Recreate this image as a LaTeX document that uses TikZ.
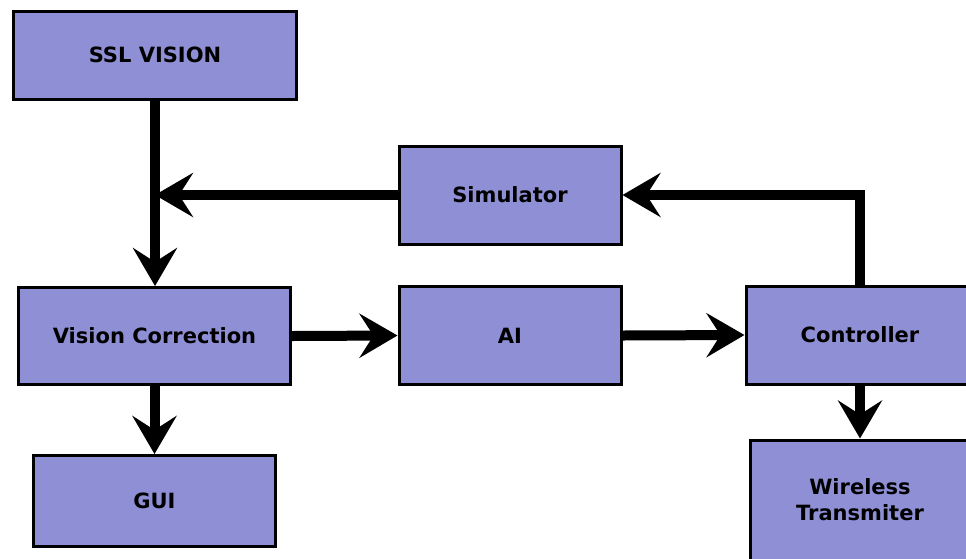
\documentclass[tikz,border=0pt]{standalone}
\usepackage{fontspec}
\setmainfont{DejaVu Sans}
\usetikzlibrary{arrows.meta}

\definecolor{boxblue}{RGB}{143,143,214}

\tikzset{
  block/.style={draw=black, fill=boxblue, line width=3pt, inner sep=0pt,
    align=center, font=\fontsize{21}{26}\selectfont\bfseries},
  flow/.style={line width=10pt, -{Stealth[length=38pt, width=44pt, inset=14pt]}}
}

\begin{document}
\begin{tikzpicture}[x=1pt, y=-1pt]
      % Picture frame
      \useasboundingbox (0,0) rectangle (966,558);
      \clip (0,0) rectangle (966,558);

      % Blocks
      \node[block, minimum width=283pt, minimum height=88pt] (ssl) at (155,55) {SSL VISION};
      \node[block, minimum width=222pt, minimum height=98pt] (sim) at (510,195) {Simulator};
      \node[block, minimum width=272pt, minimum height=97pt] (vc) at (154.5,336) {Vision Correction};
      \node[block, minimum width=222pt, minimum height=98pt] (ai) at (510,335.5) {AI};
      \node[block, minimum width=228pt, minimum height=98pt] (ctrl) at (860,335) {Controller};
      \node[block, minimum width=242pt, minimum height=91pt] (gui) at (154.5,501) {GUI};
      \node[block, minimum width=220pt, minimum height=120pt] (wt) at (860,500) {Wireless\\Transmiter};

      % Data flow
      \draw[flow] (ssl.south) -- (ssl.south |- vc.north);
      \draw[flow] (sim.west) -- (sim.west -| ssl.south);
      \draw[flow] (vc.east) -- (ai.west);
      \draw[flow] (ai.east) -- (ctrl.west);
      \draw[flow] (vc.south) -- (gui.north);
      \draw[flow] (ctrl.south) -- (wt.north);

      % Feedback to the simulator
      \draw[flow] (ctrl.north) |- (sim.east);
    \end{tikzpicture}
\end{document}
